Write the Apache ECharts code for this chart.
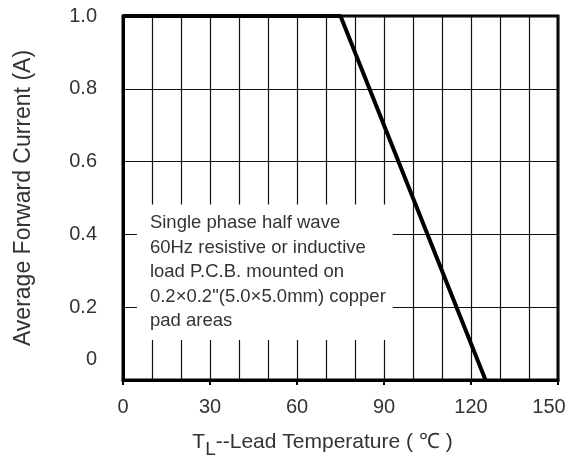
<!DOCTYPE html>
<html><head><meta charset="utf-8">
<script src="https://cdn.jsdelivr.net/npm/echarts@6/dist/echarts.min.js"></script>
<style>html,body{margin:0;padding:0;background:#fff}#c{width:568px;height:459px}</style>
</head><body><div id="c"></div>
<script>
const temperature = [0, 75, 125];
const forwardCurrent = [1.0, 1.0, 0];
const xTickLabels = ['0', '30', '60', '90', '120', '150'];
const yTickLabels = ['0', '0.2', '0.4', '0.6', '0.8', '1.0'];
const noteLines = [
  'Single phase half wave',
  '60Hz resistive or inductive',
  'load P.C.B. mounted on',
  '0.2\u00d70.2"(5.0\u00d75.0mm) copper',
  'pad areas'
];

const chart = echarts.init(document.getElementById('c'), null, {renderer: 'canvas'});
const FONT = 'Liberation Sans, Arial, sans-serif';
chart.setOption({
  backgroundColor: '#fff',
  animation: false,
  grid: {left: 123, top: 16, right: 10, bottom: 79, show: true, borderColor: '#000', borderWidth: 3,
    containLabel: false, outerBoundsMode: 'none'},
  xAxis: {
    type: 'value', min: 0, max: 150, interval: 30,
    axisLine: {show: true, lineStyle: {color: '#000', width: 3}},
    axisTick: {show: true, length: 5, lineStyle: {color: '#000', width: 2}},
    axisLabel: {color: '#333', fontSize: 20, fontFamily: FONT, margin: 17,
      formatter: v => {
        const t = xTickLabels[Math.round(v / 30)];
        return v === 150 ? '{e|' + t + '}' : t;
      },
      rich: {e: {fontSize: 20, color: '#333', fontFamily: FONT, padding: [0, 18, 0, 0]}}},
    splitLine: {show: true, lineStyle: {color: '#111', width: 1.2}},
    minorTick: {show: false, splitNumber: 3},
    minorSplitLine: {show: true, lineStyle: {color: '#111', width: 1.2}},
    name: '{n|T}{s|L}{n|--Lead Temperature ( \u2103 )}',
    nameLocation: 'middle', nameGap: 46,
    nameTextStyle: {padding: [0, 36, 0, 0], rich: {
      n: {fontSize: 21, color: '#333', fontFamily: FONT},
      s: {fontSize: 19, color: '#333', fontFamily: FONT, padding: [14, 0, 0, 0]}
    }}
  },
  yAxis: {
    type: 'value', min: 0, max: 1.0, interval: 0.2,
    axisLine: {show: true, lineStyle: {color: '#000', width: 3}},
    axisTick: {show: false},
    axisLabel: {color: '#333', fontSize: 20, fontFamily: FONT, margin: 26,
      formatter: v => {
        const t = yTickLabels[Math.round(v / 0.2)];
        return v === 0 ? '{z|' + t + '}' : t;
      },
      rich: {z: {fontSize: 20, color: '#333', fontFamily: FONT, padding: [0, 0, 42, 0]}}},
    splitLine: {show: true, lineStyle: {color: '#111', width: 1.2}},
    name: 'Average Forward Current (A)',
    nameLocation: 'middle', nameGap: 88,
    nameTextStyle: {fontSize: 23, color: '#333', fontFamily: FONT}
  },
  series: [{
    type: 'line',
    data: temperature.map((t, i) => [t, forwardCurrent[i]]),
    symbol: 'none',
    lineStyle: {color: '#000', width: 4},
    z: 5,
    markArea: {
      silent: true,
      itemStyle: {color: '#fff', borderWidth: 0},
      label: {
        show: true, position: 'insideTopLeft', distance: 0,
        formatter: noteLines.join('\n'),
        color: '#333', fontSize: 18.5, fontFamily: FONT, lineHeight: 24.6,
        padding: [6, 0, 0, 13]
      },
      data: [[{coord: [4.8, 0.482]}, {coord: [93, 0.11]}]]
    }
  }]
});
</script></body></html>
